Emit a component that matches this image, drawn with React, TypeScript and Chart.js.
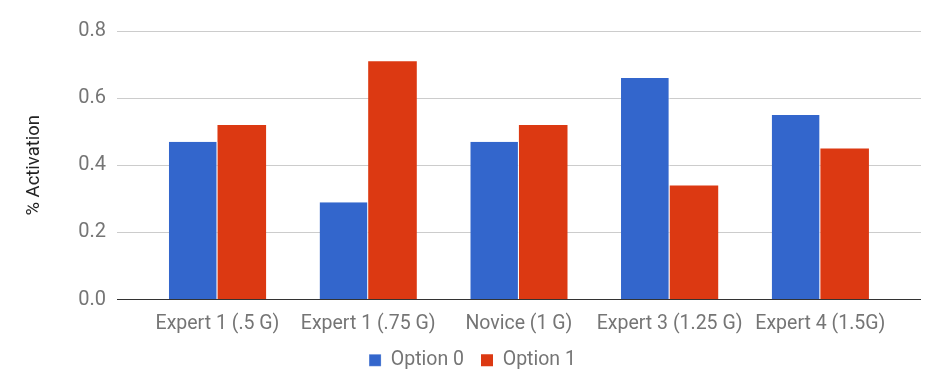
import React, { useEffect, useRef } from "react";
import { Chart, registerables } from "chart.js";

Chart.register(...registerables);

const categories = ["Expert 1 (.5 G)", "Expert 1 (.75 G)", "Novice (1 G)", "Expert 3 (1.25 G)", "Expert 4 (1.5G)"];
const option0 = [0.47, 0.29, 0.47, 0.66, 0.55];
const option1 = [0.52, 0.71, 0.52, 0.34, 0.45];
const yTicks = [0, 0.2, 0.4, 0.6, 0.8];

export default function App() {
  const ref = useRef<HTMLCanvasElement>(null);
  useEffect(() => {
    const font = "Roboto";
    const chart = new Chart(ref.current!, {
      type: "bar",
      data: {
        datasets: [
          {
            label: "Option 0",
            data: option0.map((v, i) => ({ x: i, y: v })),
            backgroundColor: "#3366cc",
            borderColor: "#ffffff",
            borderWidth: { right: 1, left: 0, top: 0, bottom: 0 } as any,
          },
          {
            label: "Option 1",
            data: option1.map((v, i) => ({ x: i, y: v })),
            backgroundColor: "#dc3912",
            borderWidth: 0,
          },
        ],
      },
      options: {
        animation: false,
        responsive: false,
        maintainAspectRatio: false,
        layout: { padding: { top: 31, right: 21, left: 24, bottom: 10 } },
        datasets: { bar: { barPercentage: 1, categoryPercentage: 0.645 } },
        plugins: {
          legend: {
            position: "bottom",
            labels: { font: { family: font, size: 19.5 }, color: "#757575", boxWidth: 12, boxHeight: 12, padding: 17 },
          },
          tooltip: { enabled: false },
        },
        scales: {
          x: {
            type: "linear",
            offset: false,
            min: -0.667,
            max: 4.668,
            afterBuildTicks: (axis: any) => {
              axis.ticks = categories.map((_, i) => ({ value: i }));
            },
            afterFit: (axis: any) => {
              axis.height = 34;
            },
            grid: { display: false, drawTicks: false },
            border: { display: false },
            ticks: {
              font: { family: font, size: 19.5 },
              color: "#757575",
              padding: 13,
              maxRotation: 0,
              autoSkip: false,
              callback: (v: any) => categories[Math.round(Number(v))],
            },
          },
          y: {
            min: 0,
            max: 0.8,
            afterBuildTicks: (axis: any) => {
              axis.ticks = yTicks.map((v) => ({ value: v }));
            },
            grid: {
              color: (ctx: any) => (ctx.tick && ctx.tick.value === 0 ? "#333333" : "#cccccc"),
              drawTicks: false,
            },
            border: { display: false },
            ticks: {
              font: { family: font, size: 20 },
              color: "#757575",
              padding: 11,
              callback: (v: any) => Number(v).toFixed(1),
            },
            title: {
              display: true,
              text: "% Activation",
              font: { family: font, size: 18.5 },
              color: "#222222",
              padding: { top: -1, bottom: 22 },
            },
          },
        },
      },
    });
    return () => chart.destroy();
  }, []);
  return (
    <div style={{ position: "fixed", left: 0, top: 0, width: 942, height: 390, background: "#fff" }}>
      <canvas ref={ref} width={942} height={390} style={{ width: 942, height: 390 }} />
    </div>
  );
}
